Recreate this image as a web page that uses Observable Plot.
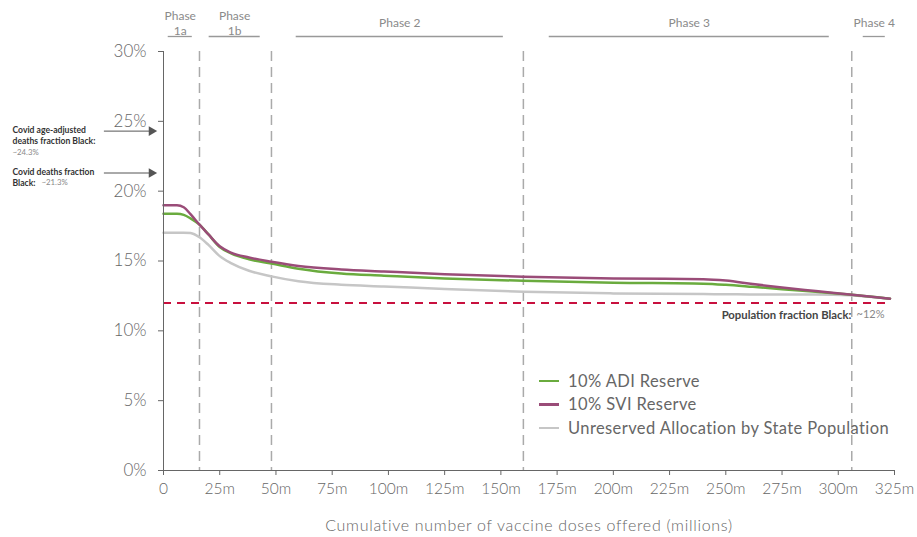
<!DOCTYPE html>
<html>
<head>
<meta charset="utf-8">
<script src="https://cdn.jsdelivr.net/npm/d3@7"></script>
<script src="https://cdn.jsdelivr.net/npm/@observablehq/plot@0.6"></script>
<style>
  html, body { margin: 0; padding: 0; background: #fff; }
  #wrap { position: relative; width: 917px; height: 537px; font-family: Lato, "Open Sans", sans-serif; }
  #legend { position: absolute; left: 539px; top: 369px; color: #666; font-size: 16.5px; font-weight: 400; letter-spacing: 0.4px; }
  #legend .row { display: flex; align-items: center; height: 23.5px; white-space: nowrap; }
  #legend .sw { width: 20px; height: 2.5px; margin-right: 9px; }
</style>
</head>
<body>
<div id="wrap"></div>
<script>
// ---- Data ----
const doses = [0, 6, 9, 12, 16, 20, 25, 30, 38, 48, 60, 79, 98, 125, 160, 200, 240, 250, 262, 275, 290, 305, 323];
const adi   = [18.38, 18.38, 18.3, 18.05, 17.6, 16.9, 16.0, 15.55, 15.12, 14.82, 14.45, 14.1, 13.95, 13.75, 13.58, 13.45, 13.38, 13.3, 13.15, 12.98, 12.8, 12.6, 12.3];
const svi   = [19.0, 19.0, 18.85, 18.35, 17.6, 16.9, 16.05, 15.6, 15.25, 14.95, 14.65, 14.4, 14.25, 14.05, 13.88, 13.75, 13.7, 13.6, 13.35, 13.1, 12.85, 12.6, 12.3];
const unres = [17.03, 17.03, 17.03, 17.0, 16.7, 16.15, 15.35, 14.85, 14.3, 13.9, 13.55, 13.3, 13.18, 13.0, 12.8, 12.68, 12.63, 12.62, 12.6, 12.6, 12.6, 12.55, 12.3];

const seriesNames  = ["10% ADI Reserve", "10% SVI Reserve", "Unreserved Allocation by State Population"];
const seriesColors = ["#6aab3e", "#9a4c78", "#c6c6c6"];
const seriesValues = [adi, svi, unres];

const phaseBoundaries = [16, 48, 160, 306];
const phaseLabels = ["Phase\n1a", "Phase\n1b", "Phase 2", "Phase 3", "Phase 4"];
const phaseStart  = [2.1, 20.3, 59.0, 171.5, 311.1];
const phaseEnd    = [12.8, 43.0, 151.1, 296.0, 320.9];

const xTicks = [0, 25, 50, 75, 100, 125, 150, 175, 200, 225, 250, 275, 300, 325];
const yTicks = [0, 5, 10, 15, 20, 25, 30];

const populationFraction = 12;
const annotLines  = ["Covid age-adjusted\ndeaths fraction Black:", "Covid deaths fraction\nBlack:"];
const annotValues = [24.3, 21.3];

const xTitle = "Cumulative number of vaccine doses offered (millions)";

// ---- Build tables ----
const table = [];
seriesNames.forEach((name, i) => {
  doses.forEach((d, j) => table.push({series: name, x: d, y: seriesValues[i][j]}));
});
const drawOrder = [2, 0, 1];
const phases = phaseLabels.map((label, i) => ({label, start: phaseStart[i], end: phaseEnd[i], mid: (phaseStart[i] + phaseEnd[i]) / 2}));
const annots = annotLines.map((t, i) => ({text: t, value: annotValues[i]}));

const grey = "#666";

const chart = Plot.plot({
  width: 917,
  height: 537,
  marginLeft: 163,
  marginRight: 23,
  marginTop: 51,
  marginBottom: 67,
  style: {fontFamily: "Lato, 'Open Sans', sans-serif", background: "#fff"},
  x: {domain: [0, 325]},
  y: {domain: [0, 30]},
  marks: [
    Plot.ruleX(phaseBoundaries, {stroke: "#aaa", strokeWidth: 1.5, strokeDasharray: "10,6"}),
    Plot.ruleY(phases, {y: () => 30, x1: "start", x2: "end", dy: -15, stroke: "#999", strokeWidth: 1.3}),
    Plot.text(phases, {x: "mid", text: "label", frameAnchor: "top", dy: -29, lineAnchor: "middle", fontSize: 12, lineHeight: 1.25, fill: "#8a8a8a"}),
    Plot.ruleY([populationFraction], {x1: 0, x2: 321, stroke: "#c8103e", strokeWidth: 2, strokeDasharray: "8,6"}),
    Plot.text([populationFraction], {y: d => d, frameAnchor: "right", dx: -43, dy: 12, textAnchor: "end", text: () => "Population fraction Black:", fontSize: 11.3, fontWeight: "bold", fill: "#444"}),
    Plot.text([populationFraction], {y: d => d, frameAnchor: "right", dx: -10, dy: 12, textAnchor: "end", text: d => "~" + d + "%", fontSize: 11, fill: "#888"}),
    ...drawOrder.map(i => Plot.line(table.filter(d => d.series === seriesNames[i]), {x: "x", y: "y", stroke: seriesColors[i], strokeWidth: 2.5, curve: "monotone-x"})),
    Plot.ruleX([0], {y1: 0, y2: 30, stroke: "#666", strokeWidth: 1}),
    Plot.ruleY([0], {x1: 0, x2: 325, stroke: "#666", strokeWidth: 1}),
    Plot.axisX({ticks: xTicks, tickFormat: d => d === 0 ? "0" : d + "m", tickSize: 5, tickPadding: 7, fontSize: 15.5, color: grey, label: null, fontWeight: 300}),
    Plot.axisY({ticks: yTicks, tickFormat: d => d + "%", tickSize: 5, tickPadding: 12, fontSize: 17, color: grey, label: null, fontWeight: 300}),
    Plot.text([xTitle], {frameAnchor: "bottom", dy: 55, lineAnchor: "middle", fontSize: 16, fill: grey, fontWeight: 300}),
    Plot.link(annots, {x1: -26.5, x2: -6, y1: "value", y2: "value", stroke: "#555", strokeWidth: 1, clip: false}),
    Plot.dot(annots, {x: -5.3, y: "value", symbol: "triangle", rotate: 90, r: 3.6, fill: "#555", stroke: "none", clip: false}),
    Plot.text(annots, {y: "value", text: "text", frameAnchor: "left", dx: -151, dy: -5, textAnchor: "start", lineAnchor: "top", fontSize: 8.6, lineHeight: 1.2, fontWeight: "bold", fill: "#333"}),
    Plot.text(annots.slice(0, 1), {y: "value", text: d => "~" + d.value + "%", frameAnchor: "left", dx: -151, dy: 21, textAnchor: "start", lineAnchor: "middle", fontSize: 7.8, fill: "#888"}),
    Plot.text(annots.slice(1), {y: "value", text: d => "~" + d.value + "%", frameAnchor: "left", dx: -122, dy: 9.5, textAnchor: "start", lineAnchor: "middle", fontSize: 7.8, fill: "#888"})
  ]
});

d3.select(chart).selectAll("text").filter(function() { return this.textContent === xTitle; }).style("letter-spacing", "0.7px");

const wrap = document.getElementById("wrap");
wrap.appendChild(chart);

const legend = document.createElement("div");
legend.id = "legend";
seriesNames.forEach((name, i) => {
  const row = document.createElement("div");
  row.className = "row";
  const sw = document.createElement("span");
  sw.className = "sw";
  sw.style.background = seriesColors[i];
  const label = document.createElement("span");
  label.textContent = name;
  row.appendChild(sw);
  row.appendChild(label);
  legend.appendChild(row);
});
wrap.appendChild(legend);
</script>
</body>
</html>
